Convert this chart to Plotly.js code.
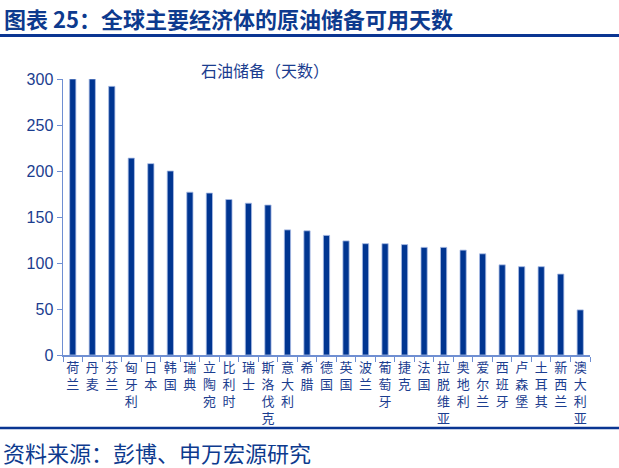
<!DOCTYPE html>
<html>
<head>
<meta charset="utf-8">
<script src="https://cdn.plot.ly/plotly-3.0.1.min.js"></script>
<style>
  html, body { margin: 0; padding: 0; background: #fff; }
  #chart { width: 619px; height: 468px; }
</style>
</head>
<body>
<div id="chart"></div>
<script>
const countries = [
  "荷兰", "丹麦", "芬兰", "匈牙利", "日本", "韩国", "瑞典", "立陶宛", "比利时",
  "瑞士", "斯洛伐克", "意大利", "希腊", "德国", "英国", "波兰", "葡萄牙", "捷克",
  "法国", "拉脱维亚", "奥地利", "爱尔兰", "西班牙", "卢森堡", "土耳其", "新西兰", "澳大利亚",
];
const reserveDays = [
  300, 300, 292, 214, 208, 200, 177, 176, 169,
  165, 163, 136, 135, 130, 124, 121, 121, 120,
  117, 117, 114, 110, 98, 96, 96, 88, 49,
];
const yTicks = [0, 50, 100, 150, 200, 250, 300];

const navy = "#003591";
const textBlue = "#1b3d8f";
const axisBlue = "#6f8fd2";
const font = "'Noto Sans CJK SC', 'Liberation Sans', sans-serif";

// plot area in pixels, used to place page texts and rules
const plotL = 63, plotR = 590, plotT = 79, plotB = 355;
const px = (x) => (x - plotL) / (plotR - plotL);
const py = (y) => (plotB - y) / (plotB - plotT);

// stack the characters of each label vertically
const vertical = (s) => s.split("").join("<br>");

const trace = {
  type: "bar",
  x: countries,
  y: reserveDays,
  width: 0.32,
  marker: { color: navy, line: { color: "#a9bde6", width: 0.8 } },
  hoverinfo: "x+y",
};

const layout = {
  width: 619,
  height: 468,
  margin: { l: plotL, r: 619 - plotR, t: plotT, b: 468 - plotB },
  paper_bgcolor: "#fff",
  plot_bgcolor: "#fff",
  showlegend: false,
  font: { family: font, color: textBlue },
  xaxis: {
    type: "category",
    tickmode: "array",
    tickvals: countries,
    ticktext: countries.map(vertical),
    tickson: "boundaries",
    ticks: "outside",
    ticklen: 5,
    tickcolor: axisBlue,
    showline: true,
    linecolor: axisBlue,
    linewidth: 1.5,
    showgrid: false,
    tickangle: 0,
    tickfont: { size: 13, color: textBlue, family: font },
    fixedrange: true,
  },
  yaxis: {
    range: [0, 300],
    tickmode: "array",
    tickvals: yTicks,
    ticks: "outside",
    ticklen: 5,
    tickcolor: axisBlue,
    showline: true,
    linecolor: axisBlue,
    linewidth: 1.5,
    showgrid: false,
    zeroline: false,
    tickfont: { size: 16, color: textBlue, family: "'Liberation Sans', Arial, sans-serif" },
    fixedrange: true,
  },
  annotations: [
    {
      text: "<b>图表 25：全球主要经济体的原油储备可用天数</b>",
      xref: "paper", yref: "paper",
      x: px(2), y: py(18), xanchor: "left", yanchor: "middle",
      showarrow: false,
      font: { size: 22, color: "#0d3a8e", family: font },
    },
    {
      text: "石油储备（天数）",
      xref: "paper", yref: "paper",
      x: px(265), y: py(70), xanchor: "center", yanchor: "middle",
      showarrow: false,
      font: { size: 16, color: textBlue, family: font },
    },
    {
      text: "资料来源：彭博、申万宏源研究",
      xref: "paper", yref: "paper",
      x: px(1), y: py(452), xanchor: "left", yanchor: "middle",
      showarrow: false,
      font: { size: 22, color: "#0d3a8e", family: font },
    },
  ],
  shapes: [
    {
      type: "line", xref: "paper", yref: "paper",
      x0: px(0), x1: px(619), y0: py(35.5), y1: py(35.5),
      line: { color: "#0a3592", width: 3 },
    },
    {
      type: "line", xref: "paper", yref: "paper",
      x0: px(0), x1: px(619), y0: py(428), y1: py(428),
      line: { color: "#0a3592", width: 2.5 },
    },
  ],
};

Plotly.newPlot("chart", [trace], layout, { displayModeBar: false, staticPlot: true });
</script>
</body>
</html>
